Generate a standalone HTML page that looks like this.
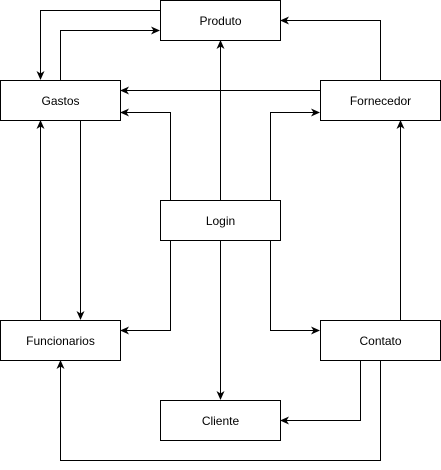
<!DOCTYPE html>
<html><head><meta charset="utf-8"><style>html,body{margin:0;padding:0;background:#fff}svg{display:block}</style></head><body>
<svg width="441" height="470" viewBox="0 0 441 470" xmlns="http://www.w3.org/2000/svg">
<defs><marker id="a" markerWidth="10" markerHeight="10" refX="8" refY="5" orient="auto" markerUnits="userSpaceOnUse"><path d="M0,1 L9,5 L0,9 L2.5,5 Z" fill="#000"/></marker></defs>
<g fill="none" stroke="#000" stroke-width="1" marker-end="url(#a)">
<path d="M160.5,10.5 H40.5 V79"/>
<path d="M60.5,80 V30.5 H159"/>
<path d="M380.5,80 V20.5 H281"/>
<path d="M320,90.5 H121"/>
<path d="M220.5,200 V41"/>
<path d="M170.5,200 V112.5 H121"/>
<path d="M170.5,240 V330.5 H121"/>
<path d="M270.5,200 V112.5 H319"/>
<path d="M270.5,240 V330.5 H319"/>
<path d="M220.5,240 V399"/>
<path d="M40.5,320 V121"/>
<path d="M80.5,120 V319"/>
<path d="M400.5,320 V121"/>
<path d="M360.5,360 V420.5 H281"/>
<path d="M380.5,360 V460.5 H60.5 V361"/>
</g>
<g fill="#fff" stroke="#000" stroke-width="1">
<rect x="160.5" y="0.5" width="120" height="40"/>
<rect x="0.5" y="80.5" width="120" height="40"/>
<rect x="320.5" y="80.5" width="120" height="40"/>
<rect x="160.5" y="200.5" width="120" height="40"/>
<rect x="0.5" y="320.5" width="120" height="40"/>
<rect x="320.5" y="320.5" width="120" height="40"/>
<rect x="160.5" y="400.5" width="120" height="40"/>
</g>
<g font-family="Liberation Sans, Helvetica, sans-serif" font-size="12" text-anchor="middle" fill="#000">
<text x="220.5" y="25">Produto</text>
<text x="60.5" y="105">Gastos</text>
<text x="380.5" y="105">Fornecedor</text>
<text x="220.5" y="225">Login</text>
<text x="60.5" y="345">Funcionarios</text>
<text x="380.5" y="345">Contato</text>
<text x="220.5" y="425">Cliente</text>
</g>
</svg>
</body></html>
